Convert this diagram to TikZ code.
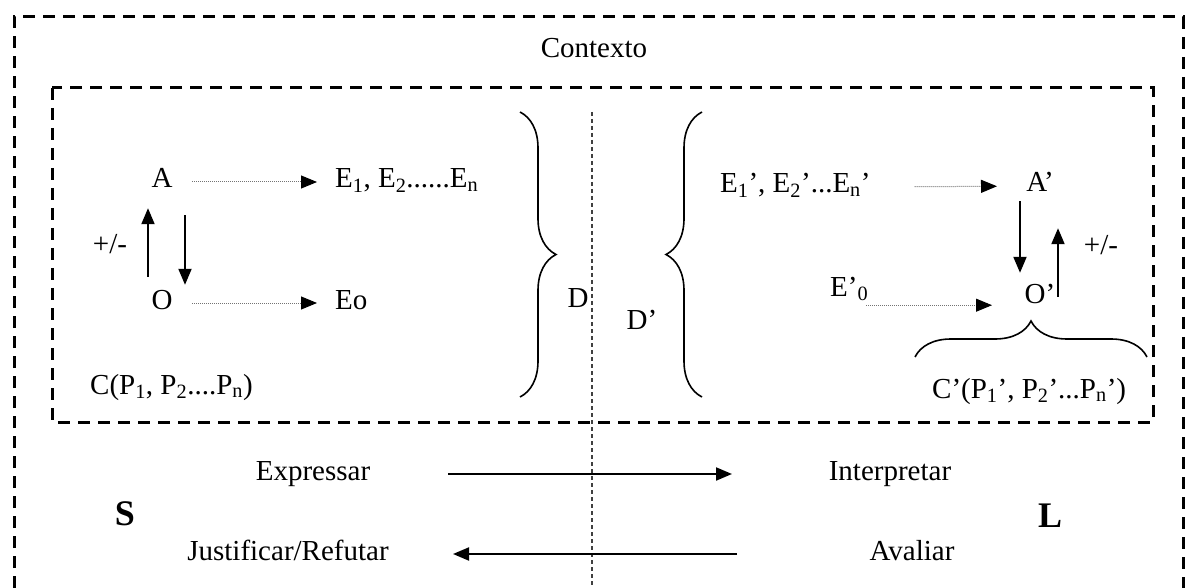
\documentclass[tikz,border=0pt]{standalone}
\usepackage{fontspec}
\setmainfont{Liberation Serif}
\usetikzlibrary{arrows.meta,decorations.pathreplacing}

\begin{document}
\begin{tikzpicture}[x=1pt, y=-1pt,
    every node/.style={font=\fontsize{29}{34}\selectfont, inner sep=2pt, text height=19pt, text depth=7pt},
    frame/.style={line width=3pt, dash pattern=on 12pt off 8pt},
    divider/.style={line width=1.5pt, dash pattern=on 4pt off 3pt, black!75},
    dotarr/.style={black!55, line width=1pt, dash pattern=on 1pt off 1pt, -{Triangle[length=16pt, width=13pt, color=black]}},
    arr/.style={line width=2pt, -{Triangle[length=16pt, width=13pt]}},
    brc/.style={decorate, decoration={brace, amplitude=36pt}, line width=1.6pt},
    big/.style={font=\fontsize{36}{40}\selectfont\bfseries}]
\useasboundingbox (0,0) rectangle (1192,588);
% molduras
\draw[frame] (14,588) -- (14,17) -- (1183,17) -- (1183,588);
\draw[frame] (52,88) rectangle (1153,422);
\draw[divider] (592,112) -- (592,588);
\node (ctx) at (594,52) {Contexto};
% lado S
\node (A) at (162,182) {A};
\node (O) at (162,303) {O};
\node[anchor=west] (E1) at (333,182) {E\textsubscript{1}, E\textsubscript{2}......E\textsubscript{n}};
\node[anchor=west] (Eo) at (333,303) {Eo};
\node (pmS) at (110,248) {+/-};
\node[anchor=west] (CS) at (88,388) {C(P\textsubscript{1}, P\textsubscript{2}....P\textsubscript{n})};
\node (D) at (578,302) {D};
% lado L
\node (Dp) at (642,324) {D’};
\node[anchor=west] (E1p) at (718,187) {E\textsubscript{1}’, E\textsubscript{2}’...E\textsubscript{n}’};
\node (Ap) at (1040,186) {A’};
\node (Op) at (1040,297) {O’};
\node[anchor=west] (E0p) at (828,290) {E’\textsubscript{0}};
\node (pmL) at (1101,249) {+/-};
\node[anchor=west] (CL) at (930,392) {C’(P\textsubscript{1}’, P\textsubscript{2}’...P\textsubscript{n}’)};
% S e L
\node (expr) at (313,474) {Expressar};
\node (interp) at (890,474) {Interpretar};
\node[big] (S) at (125,519) {S};
\node[big] (L) at (1050,521) {L};
\node (just) at (288,554) {Justificar/Refutar};
\node (aval) at (912,554) {Avaliar};
% chaves
\draw[brc] (520,112) -- (520,397);
\draw[brc] (702,397) -- (702,112);
\draw[brc] (915,357) -- (1147,357);
% setas pontilhadas
\foreach \a/\b in {A/E1, O/Eo} {
    \draw[dotarr, shorten <=30pt, shorten >=16pt] (\a.center) -- (\b.west);
}
\draw[dotarr, shorten <=42pt, shorten >=43pt] (E1p.east) -- (Ap.center);
\draw[dotarr, shorten <=-4pt, shorten >=48pt] (E0p.south east) -- (Op.center |- E0p.south east);
% A <-> O
\draw[arr, shorten <=11pt, shorten >=11pt] ([xshift=-14pt]O.north) -- ([xshift=-14pt]A.south);
\draw[arr, shorten <=18pt, shorten >=3pt] ([xshift=23pt]A.south) -- ([xshift=23pt]O.north);
\draw[arr, shorten >=9pt] ([xshift=-20pt]Ap.south) -- ([xshift=-20pt]Op.north);
\draw[arr, shorten >=27pt] ([xshift=18pt]Op.center) -- ([xshift=18pt]Ap.south);
% setas de baixo
\draw[arr, shorten <=135pt, shorten >=158pt] (expr.center) -- (interp.center);
\draw[arr, shorten <=175pt, shorten >=165pt] (aval.center) -- (just.center);
\end{tikzpicture}
\end{document}
